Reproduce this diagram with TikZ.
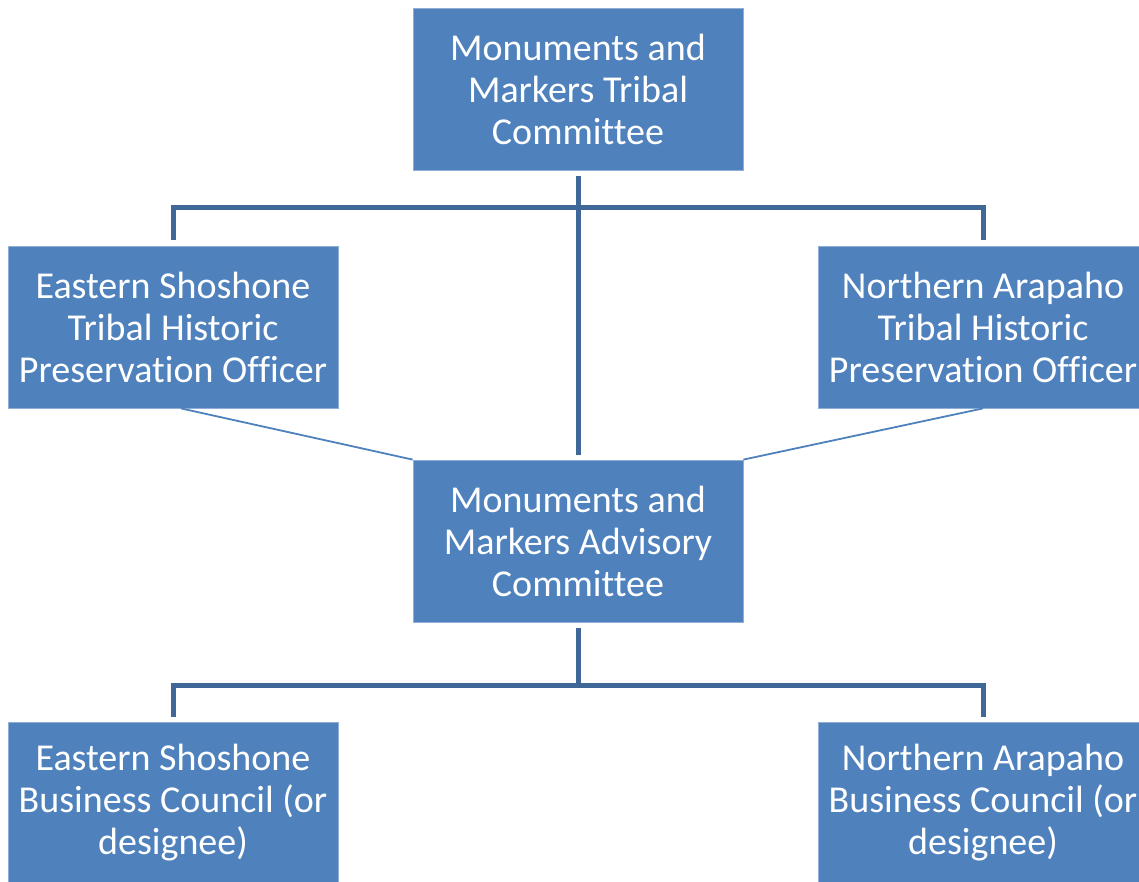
\documentclass[tikz,border=0pt]{standalone}
\usepackage{fontspec}
\setmainfont[Ligatures=NoCommon]{Carlito}
\definecolor{boxblue}{HTML}{4F81BD}
\definecolor{lineblue}{HTML}{3F6797}
\definecolor{edgeblue}{HTML}{8FAFD8}
\begin{document}
\begin{tikzpicture}[x=1pt,y=-1pt,
  orgbox/.style={draw=edgeblue,line width=0.8pt,fill=boxblue,text=white,
    minimum width=330pt,minimum height=162pt,inner sep=0pt,align=center,
    font=\fontsize{38}{42}\selectfont},
  thick link/.style={draw=lineblue,line width=5pt},
  thin link/.style={draw=boxblue,line width=1.8pt}]
\useasboundingbox (0,0) rectangle (1139,882);
\clip (0,0) rectangle (1139,882);
\node[orgbox] (top) at (578,89) {Monuments and\\Markers Tribal\\Committee};
\node[orgbox] (esthpo) at (173,327) {Eastern Shoshone\\Tribal Historic\\Preservation Officer};
\node[orgbox] (nathpo) at (983,327) {Northern Arapaho\\Tribal Historic\\Preservation Officer};
\node[orgbox] (mid) at (578,541) {Monuments and\\Markers Advisory\\Committee};
\node[orgbox] (esbc) at (173,803) {Eastern Shoshone\\Business Council (or\\designee)};
\node[orgbox] (nabc) at (983,803) {Northern Arapaho\\Business Council (or\\designee)};
% upper tree
\coordinate (tl) at (173,208);
\coordinate (tr) at (983,208);
\draw[thick link] ([yshift=-6pt]top.south) -- ([yshift=5pt]mid.north);
\draw[thick link] ([yshift=6pt]esthpo.north) -- (tl) -- (tr) -- ([yshift=6pt]nathpo.north);
% thin links
\draw[thin link] ([xshift=8pt]esthpo.south) -- (mid.north west);
\draw[thin link] (nathpo.south) -- (mid.north east);
% lower tree
\coordinate (bl) at (173,685);
\coordinate (br) at (983,685);
\coordinate (bm) at (578,685);
\draw[thick link] ([yshift=-6pt]mid.south) -- (bm);
\draw[thick link] ([yshift=5pt]esbc.north) -- (bl) -- (br) -- ([yshift=5pt]nabc.north);
\end{tikzpicture}
\end{document}
